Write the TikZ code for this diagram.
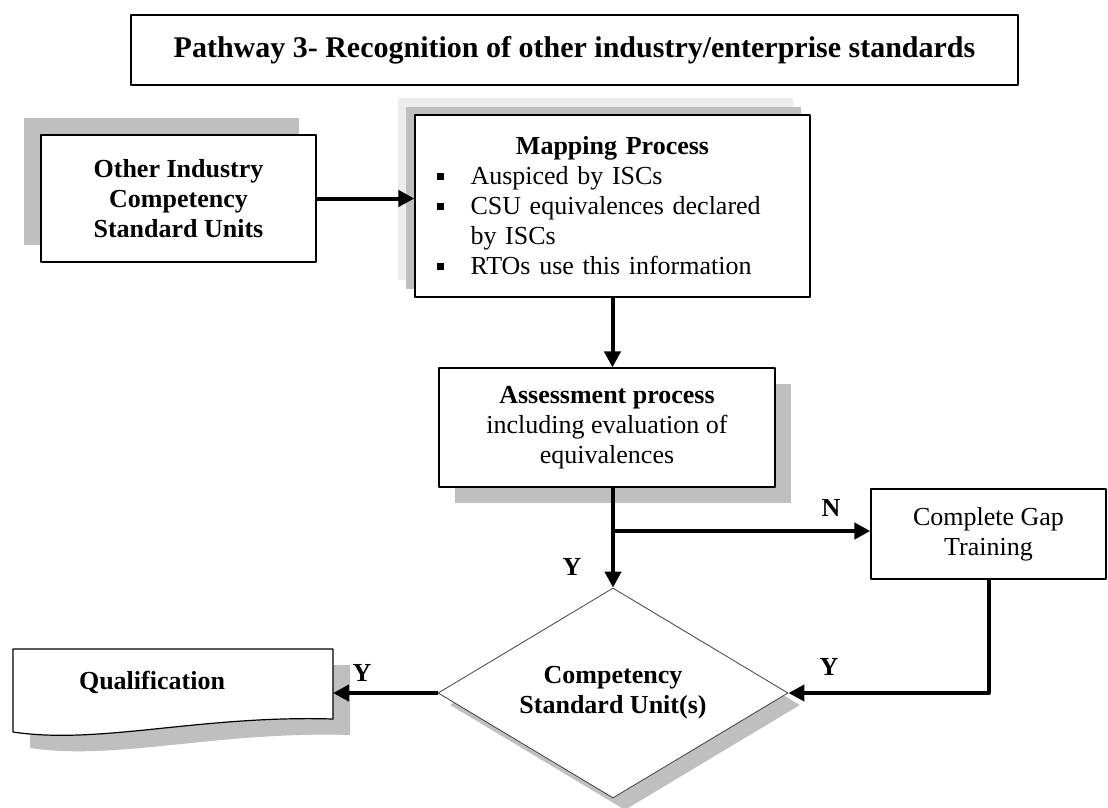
\documentclass[tikz,border=0pt]{standalone}
\usepackage{fontspec}
\setmainfont{Liberation Serif}
\usetikzlibrary{arrows.meta,shapes.geometric,shadows}
\newcommand\mapbul{\par\noindent\hangindent=34pt\hangafter=1\makebox[34pt][l]{\raisebox{5pt}{\rule{7pt}{7pt}}}}
\begin{document}
\begin{tikzpicture}[x=1pt,y=-1pt,>={Triangle[length=16pt,width=16pt]},line join=round,
  font=\fontsize{26}{30}\selectfont,
  box/.style={draw,line width=1.2pt,fill=white,rectangle,align=center,inner sep=0pt},
  shade up/.style={drop shadow={shadow xshift=-17pt,shadow yshift=17pt,fill=gray!50,opacity=1}},
  shade down/.style={drop shadow={shadow xshift=16pt,shadow yshift=-16pt,fill=gray!50,opacity=1}},
  flow/.style={->,line width=4pt},
  lbl/.style={font=\fontsize{26}{30}\selectfont\bfseries}]
\useasboundingbox (0,0) rectangle (1108,807);
\node[box,minimum width=887pt,minimum height=70pt,font=\fontsize{30}{34}\selectfont\bfseries] (title) at (574.5,50) {Pathway 3- Recognition of other industry/enterprise standards};
\node[box,shade up,minimum width=275pt,minimum height=127pt,font=\fontsize{26}{30}\selectfont\bfseries] (other) at (178.5,198.5) {Other Industry\\Competency\\Standard Units};
\node[box,align=left,text width=352pt,minimum width=395pt,minimum height=182pt,
  drop shadow={shadow xshift=-17pt,shadow yshift=17pt,fill=gray!15,opacity=1},
  drop shadow={shadow xshift=-9pt,shadow yshift=8pt,fill=gray!50,opacity=1}] (map) at (612.5,206)
  {{\centering\bfseries Mapping Process\par}\mapbul Auspiced by ISCs\mapbul CSU equivalences declared\newline by ISCs\mapbul RTOs use this information};
\node[box,shade down,minimum width=336pt,minimum height=119pt] (assess) at (607,427.5) {\textbf{Assessment process}\\including evaluation of\\equivalences};
\node[box,minimum width=235pt,minimum height=90pt] (gap) at (988.5,534) {Complete Gap\\Training};
\node[shape=diamond,draw=black!75,line width=.8pt,fill=white,minimum width=350pt,minimum height=210pt,aspect=1.667,inner sep=0pt,align=center,
  font=\fontsize{26}{30}\selectfont\bfseries,drop shadow={shadow xshift=12pt,shadow yshift=-12pt,fill=gray!50,opacity=1}] (csu) at (613,693) {Competency\\Standard Unit(s)};
\fill[gray!50,shift={(17,16)}] (13,649) -- (333,649) -- (333,719) .. controls (200,715) and (100,745) .. (13,732) -- cycle;
\draw[line width=1.2pt,fill=white] (13,649) -- (333,649) -- (333,719) .. controls (200,715) and (100,745) .. (13,732) -- cycle;
\node[lbl] (qual) at (152,682) {Qualification};
\coordinate (qualin) at (333,693);
\coordinate (split) at (csu.north |- 0,531);
\draw[flow] (other.east) -- (other.east -| map.west);
\draw[flow] (map.south) -- (map.south |- assess.north);
\draw[flow] (csu.north |- assess.south) -- (csu.north);
\draw[flow] (split) -- (split -| gap.west);
\draw[flow] (gap.south) |- (csu.east);
\draw[flow] (csu.west) -- (qualin);
\node[lbl] (nlab) at (831,508) {N};
\node[lbl] (ylab1) at (572,567) {Y};
\node[lbl] (ylab2) at (829,667) {Y};
\node[lbl] (ylab3) at (362,673) {Y};
\end{tikzpicture}
\end{document}
